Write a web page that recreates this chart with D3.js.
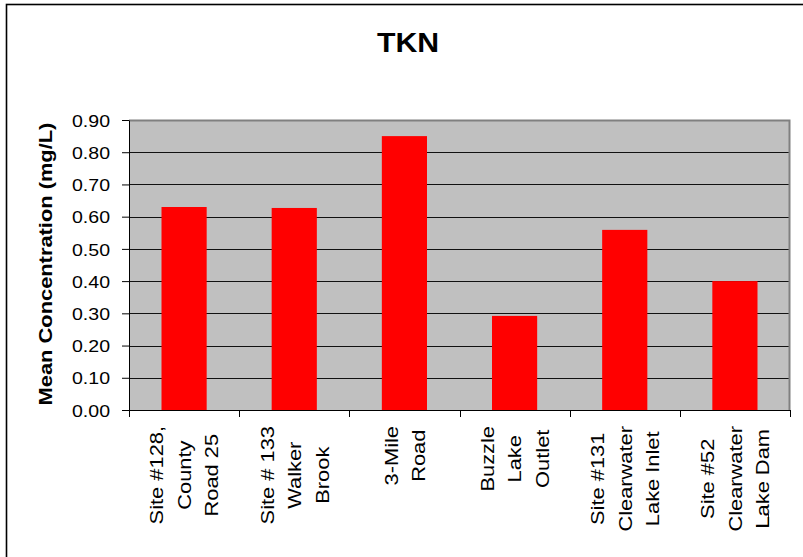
<!DOCTYPE html>
<html>
<head>
<meta charset="utf-8">
<script src="https://cdn.jsdelivr.net/npm/d3@7"></script>
<style>
  body { margin: 0; background: #fff; }
  text { font-family: Arial, "Liberation Sans", sans-serif; fill: #000; }
</style>
</head>
<body>
<div id="chart"></div>
<script>
// data
const siteLines = [
  ["Site #128,", "County", "Road 25"],
  ["Site # 133", "Walker", "Brook"],
  ["3-Mile", "Road"],
  ["Buzzle", "Lake", "Outlet"],
  ["Site #131", "Clearwater", "Lake Inlet"],
  ["Site #52", "Clearwater", "Lake Dam"]
];
const tknValues = [0.630, 0.627, 0.850, 0.292, 0.559, 0.400];
const yTicks = [0, 0.1, 0.2, 0.3, 0.4, 0.5, 0.6, 0.7, 0.8, 0.9];
const chartTitle = "TKN";
const yTitle = "Mean Concentration (mg/L)";

const W = 803, H = 557;
const stretch = 1.15; // glyphs in the reference are a bit wider than Arial
let margin = { top: 120, right: 13, bottom: 147, left: 129 };
let plotW = W - margin.left - margin.right,
    plotH = H - margin.top - margin.bottom;

const svg = d3.select("#chart").append("svg")
  .attr("width", W)
  .attr("height", H);

// outer frame (only top and left visible in the picture)
svg.append("rect")
  .attr("x", 6.5).attr("y", 4.5)
  .attr("width", W + 20).attr("height", H + 20)
  .attr("fill", "none")
  .attr("stroke", "#000")
  .attr("stroke-width", 1.6);

svg.append("path")
  .attr("d", "M768.5,514V526.5H756")
  .attr("fill", "none")
  .attr("stroke", "#222")
  .attr("stroke-width", 1);

svg.append("text")
  .attr("transform", "translate(408,52) scale(1.08,1)")
  .attr("text-anchor", "middle")
  .style("font-size", "28px")
  .style("font-weight", "bold")
  .text(chartTitle);

const g = svg.append("g")
  .attr("transform", "translate(" + margin.left + "," + margin.top + ")");

let x = d3.scaleBand()
  .domain(d3.range(siteLines.length))
  .range([0, plotW]);

let y = d3.scaleLinear()
  .domain([0, 0.9])
  .range([plotH, 0]);

g.append("rect")
  .attr("width", plotW)
  .attr("height", plotH)
  .attr("fill", "#c0c0c0");

// grid
g.selectAll(".grid")
  .data(yTicks.filter(t => t > 0 && t < 0.9))
  .enter().append("line")
  .attr("class", "grid")
  .attr("x1", 0).attr("x2", plotW)
  .attr("y1", d => Math.round(y(d)) + 0.5)
  .attr("y2", d => Math.round(y(d)) + 0.5)
  .attr("stroke", "#111")
  .attr("stroke-width", 1);

// plot border top/right
g.append("path")
  .attr("d", "M0," + 0.5 + "H" + (plotW - 0.5) + "V" + plotH)
  .attr("fill", "none")
  .attr("stroke", "#808080")
  .attr("stroke-width", 2);

let barW = x.bandwidth() * 0.41;

g.selectAll(".bar")
  .data(tknValues)
  .enter().append("rect")
  .attr("class", "bar")
  .attr("x", (d, i) => x(i) + (x.bandwidth() - barW) / 2)
  .attr("y", d => y(d))
  .attr("width", barW)
  .attr("height", d => plotH - y(d))
  .attr("fill", "#ff0000");

// y axis
let yAxis = d3.axisLeft(y)
  .tickValues(yTicks)
  .tickFormat(d3.format(".2f"))
  .tickSize(7)
  .tickSizeOuter(0);

let yG = g.append("g").call(yAxis);
yG.select(".domain").attr("stroke", "#000");
yG.selectAll(".tick line").attr("stroke", "#000");
yG.selectAll(".tick text")
  .attr("x", -19 / stretch)
  .attr("dy", "0.36em")
  .attr("transform", "scale(" + stretch + ",1)")
  .style("font-size", "17px")
  .attr("font-family", null);

// x axis line with ticks at category boundaries
let bounds = d3.range(siteLines.length + 1).map(i => i * x.step());
g.append("line")
  .attr("x1", 0).attr("x2", plotW)
  .attr("y1", plotH + 0.5).attr("y2", plotH + 0.5)
  .attr("stroke", "#000");
g.selectAll(".xtick")
  .data(bounds)
  .enter().append("line")
  .attr("class", "xtick")
  .attr("x1", d => Math.round(d) + 0.5).attr("x2", d => Math.round(d) + 0.5)
  .attr("y1", plotH).attr("y2", plotH + 7)
  .attr("stroke", "#000");

// category labels, rotated, lines centred under each band
const lineGap = 27.5, labelTop = 426 - margin.top;
siteLines.forEach(function (lines, i) {
  let cx = x(i) + x.bandwidth() / 2;
  let texts = [];
  lines.forEach(function (line, j) {
    let col = cx + (j - (lines.length - 1) / 2) * lineGap;
    let t = g.append("text")
      .attr("transform", "translate(" + col + "," + labelTop + ") rotate(-90) scale(" + stretch + ",1)")
      .attr("text-anchor", "middle")
      .attr("dy", "0.36em")
      .style("font-size", "19px")
      .text(line);
    texts.push(t);
  });
  let maxLen = d3.max(texts, t => t.node().getComputedTextLength());
  texts.forEach(t => t.attr("x", -maxLen / 2));
});

// y title
svg.append("text")
  .attr("transform", "translate(52,264) rotate(-90) scale(" + stretch + ",1)")
  .attr("text-anchor", "middle")
  .style("font-size", "19px")
  .style("font-weight", "bold")
  .text(yTitle);
</script>
</body>
</html>
